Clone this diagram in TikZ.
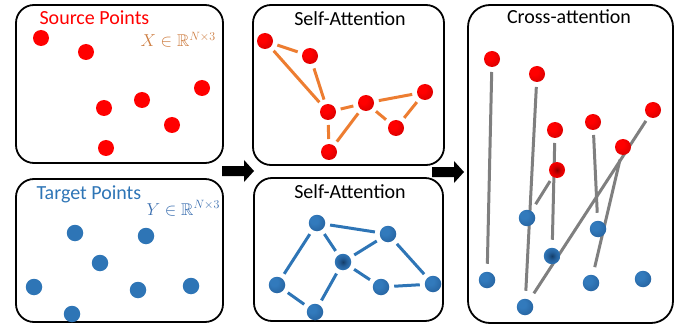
\documentclass[tikz,border=0pt]{standalone}
\usepackage{fontspec}
\setmainfont{Carlito}
\usepackage{amssymb}
\usetikzlibrary{backgrounds}

\definecolor{srcred}{RGB}{255,0,0}
\definecolor{srcmid}{RGB}{210,0,0}
\definecolor{srcdark}{RGB}{140,0,0}
\definecolor{tgtblue}{RGB}{50,122,188}
\definecolor{tgtflat}{RGB}{46,117,182}
\definecolor{tgtmid}{RGB}{36,95,155}
\definecolor{tgtdark}{RGB}{20,62,105}
\definecolor{attorange}{RGB}{237,125,49}
\definecolor{linkgray}{RGB}{127,127,127}
\definecolor{xorange}{RGB}{205,125,65}
\definecolor{yblue}{RGB}{58,110,175}

% shaded balls: highlight towards the upper left, dark towards the lower right
\pgfdeclareradialshading{redball}{\pgfpoint{-12bp}{12bp}}{color(0bp)=(srcred); color(12bp)=(srcred); color(36bp)=(srcmid); color(50bp)=(srcdark)}
\pgfdeclareradialshading{blueball}{\pgfpoint{-12bp}{12bp}}{color(0bp)=(tgtblue); color(12bp)=(tgtblue); color(36bp)=(tgtmid); color(50bp)=(tgtdark)}
% shaded balls with a soft dark core
\pgfdeclareradialshading{redcore}{\pgfpoint{0bp}{0bp}}{color(0bp)=(srcdark); color(12bp)=(srcmid); color(28bp)=(srcred); color(42bp)=(srcmid); color(50bp)=(srcdark)}
\pgfdeclareradialshading{bluecore}{\pgfpoint{0bp}{0bp}}{color(0bp)=(tgtdark); color(12bp)=(tgtmid); color(28bp)=(tgtblue); color(42bp)=(tgtmid); color(50bp)=(tgtdark)}

\tikzset{
  panel/.style={draw=black, line width=1.8pt, rounded corners=18pt, inner sep=0pt, outer sep=0pt},
  ball/.style={circle, minimum size=16pt, inner sep=0pt, outer sep=0pt},
  rdot/.style={ball, fill=srcred},
  bdot/.style={ball, fill=tgtflat, minimum size=16.5pt},
  rball/.style={ball, shade, shading=redball},
  bball/.style={ball, shade, shading=blueball, minimum size=16.5pt},
  rcore/.style={ball, shade, shading=redcore},
  bcore/.style={ball, shade, shading=bluecore, minimum size=16.5pt},
  title/.style={anchor=base, font=\fontsize{20}{24}\selectfont},
  label/.style={anchor=base west, font=\fontsize{20}{24}\selectfont},
  setlbl/.style={anchor=base west, font=\fontsize{17}{20}\selectfont},
  oedge/.style={draw=attorange, line width=3pt, shorten <=5pt, shorten >=5pt},
  bedge/.style={draw=tgtflat, line width=3pt, shorten <=5pt, shorten >=5pt},
  gedge/.style={draw=linkgray, line width=3pt, shorten <=5pt, shorten >=8pt},
  blockarrow/.style={fill=black}
}

\begin{document}
\begin{tikzpicture}[x=1pt, y=-1pt]
\useasboundingbox (0,0) rectangle (688,326);

% ---------- panels ----------
\node[panel, minimum width=207pt, minimum height=158pt] (srcbox) at (119.5,84) {};
\node[panel, minimum width=207pt, minimum height=143pt] (tgtbox) at (119.5,250.5) {};
\node[panel, minimum width=191pt, minimum height=160pt] (sabox1) at (348.5,85) {};
\node[panel, minimum width=189pt, minimum height=143pt] (sabox2) at (348.5,249.5) {};
\node[panel, minimum width=205pt, minimum height=318pt, rounded corners=22pt] (cabox) at (570.5,164) {};

% ---------- labels ----------
\node[label, text=srcred] (srclbl) at (36,25) {Source Points};
\node[setlbl, text=xorange] (srcset) at (137,47) {$X\in\mathbb{R}^{N\times 3}$};
\node[label, text=tgtflat] (tgtlbl) at (33,199) {Target Points};
\node[setlbl, text=yblue] (tgtset) at (143,215) {$Y\in\mathbb{R}^{N\times 3}$};
\node[title] (satitle1) at (350,26) {Self-Attention};
\node[title] (satitle2) at (350,198) {Self-Attention};
\node[title] (catitle) at (569,24) {Cross-attention};

% ---------- source points ----------
\node[rdot] (x1) at (41,38) {};
\node[rdot] (x2) at (86,52) {};
\node[rdot] (x3) at (202,88) {};
\node[rdot] (x4) at (104,108) {};
\node[rdot] (x5) at (142,100) {};
\node[rdot] (x6) at (172,125) {};
\node[rdot] (x7) at (106,148) {};

% ---------- target points ----------
\node[bdot] (y1) at (75,233) {};
\node[bdot] (y2) at (146,236) {};
\node[bdot] (y3) at (100,263) {};
\node[bdot] (y4) at (34,287) {};
\node[bdot] (y5) at (138,290) {};
\node[bdot] (y6) at (191,286) {};
\node[bdot] (y7) at (72,314) {};

% ---------- self-attention on source ----------
\node[rball] (s1) at (265,41) {};
\node[rball] (s2) at (310,56) {};
\node[rball] (s3) at (328,112) {};
\node[rball] (s4) at (366,103) {};
\node[rball] (s5) at (425,92) {};
\node[rball] (s6) at (396,128) {};
\node[rball] (s7) at (329,152) {};

% ---------- self-attention on target ----------
\node[bball] (t1) at (317,223) {};
\node[bball] (t2) at (388,234) {};
\node[bcore] (t3) at (343,262) {};
\node[bball] (t4) at (277,285) {};
\node[bball] (t5) at (381,287) {};
\node[bball] (t6) at (433,284) {};
\node[bball] (t7) at (315,312) {};

% ---------- cross-attention ----------
\node[rball] (r1) at (492,59) {};
\node[rball] (r2) at (537,74) {};
\node[rball] (r3) at (555,130) {};
\node[rball] (r4) at (593,122) {};
\node[rball] (r5) at (653,110) {};
\node[rball] (r6) at (623,147) {};
\node[rcore] (r7) at (557,170) {};
\node[bball] (b1) at (527,218) {};
\node[bball] (b2) at (598,229) {};
\node[bcore] (b3) at (552,256) {};
\node[bball] (b4) at (487,280) {};
\node[bball] (b5) at (591,283) {};
\node[bball] (b6) at (643,279) {};
\node[bball] (b7) at (525,307) {};

% ---------- edges (behind the points) ----------
\begin{scope}[on background layer]
  \draw[oedge] (s1) -- (s2);
  \draw[oedge] (s1) -- (s3);
  \draw[oedge] (s2) -- (s3);
  \draw[oedge] (s3) -- (s4);
  \draw[oedge] (s4) -- (s5);
  \draw[oedge] (s4) -- (s6);
  \draw[oedge] (s5) -- (s6);
  \draw[oedge] (s3) -- (s7);
  \draw[oedge] (s7) -- (s4);

  \draw[bedge] (t1) -- (t2);
  \draw[bedge] (t1) -- (t3);
  \draw[bedge] (t1) -- (t4);
  \draw[bedge] (t3) -- (t2);
  \draw[bedge] (t2) -- (t6);
  \draw[bedge] (t3) -- (t5);
  \draw[bedge] (t3) -- (t7);
  \draw[bedge] (t4) -- (t7);
  \draw[bedge] (t5) -- (t6);

  \draw[gedge] (r1) -- (b4);
  \draw[gedge] (r2) -- (b7);
  \draw[gedge] (r3) -- (b3);
  \draw[gedge] (r4) -- (b2);
  \draw[gedge] (r5) -- (b7);
  \draw[gedge] (r6) -- (b5);
  \draw[gedge] (r7) -- (b1);
\end{scope}

% ---------- block arrows between the stages ----------
\coordinate (arrowA) at (222,171);
\coordinate (arrowB) at (432,172);
\fill[blockarrow] (arrowA) ++(0,-5) -- ++(22,0) -- ++(0,-6) -- ++(10,11) -- ++(-10,11) -- ++(0,-6) -- ++(-22,0) -- cycle;
\fill[blockarrow] (arrowB) ++(0,-5) -- ++(22,0) -- ++(0,-6) -- ++(10,11) -- ++(-10,11) -- ++(0,-6) -- ++(-22,0) -- cycle;
\end{tikzpicture}
\end{document}
